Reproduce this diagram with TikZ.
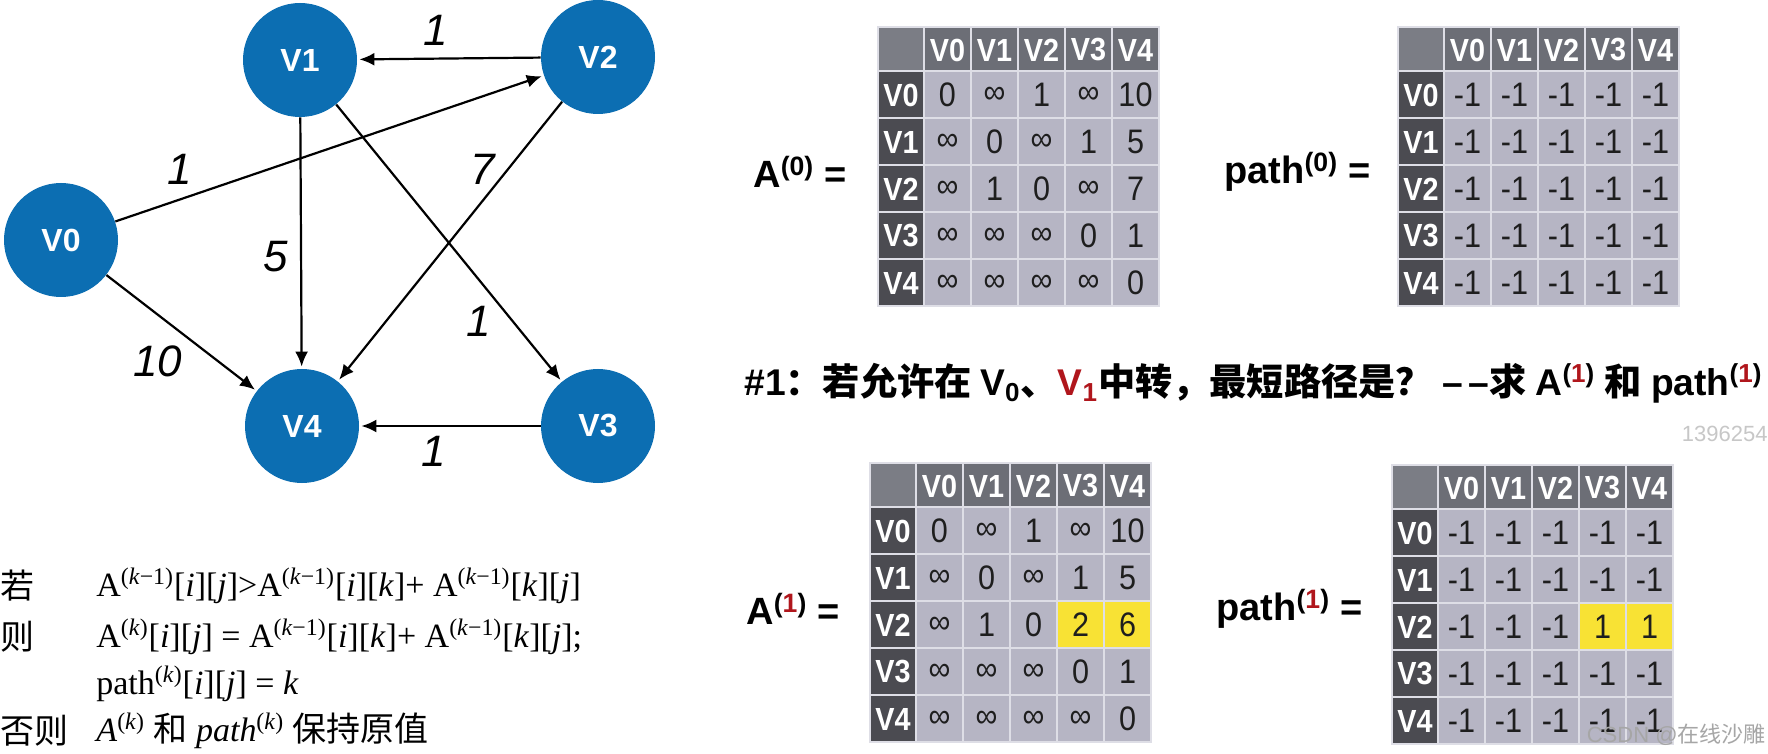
\documentclass[tikz,border=0pt]{standalone}
\usepackage{fontspec}
\usetikzlibrary{arrows.meta}
\setmainfont{Liberation Serif}
\setsansfont{Liberation Sans}
\newfontfamily\hv{Liberation Sans}
\newfontfamily\hvn{Liberation Sans}[FakeStretch=0.9]
\newfontfamily\cjk{Noto Sans CJK SC}
\definecolor{nodeblue}{HTML}{0C6EB2}
\definecolor{cornerc}{HTML}{7B7D85}
\definecolor{hdrbg}{HTML}{6C6E76}
\definecolor{rowhdr}{HTML}{4B4B51}
\definecolor{cellbg}{HTML}{B6B5C4}
\definecolor{hl}{HTML}{F8E234}
\definecolor{gridline}{HTML}{DEDEE6}
\definecolor{redone}{HTML}{B0161C}
\definecolor{celltext}{HTML}{1E1E1E}
\tikzset{
  vnode/.style={circle, fill=nodeblue, minimum size=57pt, inner sep=0pt,
    text=white, font=\hv\bfseries\fontsize{16}{18}\selectfont},
  edge/.style={line width=1.1pt, -{Latex[length=7.5pt,width=6.5pt]}, shorten >=1pt},
  elab/.style={inner sep=0pt, font=\hv\itshape\fontsize{22}{24}\selectfont},
  hdrtxt/.style={inner sep=0pt, text=white, font=\hvn\bfseries\fontsize{16}{18}\selectfont},
  celltxt/.style={inner sep=0pt, text=celltext, font=\hvn\fontsize{17}{19}\selectfont},
  eqlab/.style={inner sep=0pt, anchor=west, font=\hv\bfseries\fontsize{19}{22}\selectfont},
  formula/.style={inner sep=0pt, anchor=west, font=\rmfamily\fontsize{17}{20}\selectfont},
  cjklab/.style={inner sep=0pt, anchor=west, font=\cjk\fontsize{17}{20}\selectfont},
}
% #1 x, #2 y, #3 name, #4 highlight flag, #5 rows
\newcommand\mtable[5]{%
\begin{scope}[shift={(#1,#2)}]
  \fill[cornerc, draw=gridline, line width=0.8pt] (0,0) rectangle (46,44);
  \foreach \c [count=\i from 0] in {V0,V1,V2,V3,V4} {
    \fill[hdrbg, draw=gridline, line width=0.8pt] (46+47*\i,0) rectangle ++(47,44);
    \node[hdrtxt] (#3-h\i) at (46+47*\i+23.5,23) {\c};
    \fill[rowhdr, draw=gridline, line width=0.8pt] (0,44+47*\i) rectangle ++(46,47);
    \node[hdrtxt] (#3-r\i) at (23,44+47*\i+24) {\c};
  }
  \foreach \row [count=\j from 0] in {#5} {
    \foreach \v [count=\i from 0] in \row {
      \def\cellcol{cellbg}%
      \ifnum#4=1 \ifnum\j=2 \ifnum\i>2 \def\cellcol{hl}\fi\fi\fi
      \fill[\cellcol, draw=gridline, line width=0.8pt] (46+47*\i,44+47*\j) rectangle ++(47,47);
      \node[celltxt] (#3-\j-\i) at (46+47*\i+23.5,44+47*\j+24) {\v};
    }
  }
\end{scope}}
\begin{document}
\begin{tikzpicture}[x=0.5pt,y=-0.5pt]
\fill[white] (0,0) rectangle (1768,754);
\useasboundingbox (0,0) rectangle (1768,754);
% graph
\node[vnode] (v0) at (61,240) {V0};
\node[vnode] (v1) at (300,60) {V1};
\node[vnode] (v2) at (598,57) {V2};
\node[vnode] (v4) at (302,426) {V4};
\node[vnode] (v3) at (598,426) {V3};
\draw[edge] (v2) -- (v1);
\draw[edge] (v0) -- (v2);
\draw[edge] (v1) -- (v4);
\draw[edge] (v1) -- (v3);
\draw[edge] (v2) -- (v4);
\draw[edge] (v0) -- (v4);
\draw[edge] (v3) -- (v4);
\node[elab] (l21) at (436,30) {1};
\node[elab] (l02) at (180,169) {1};
\node[elab] (l24) at (483,169) {7};
\node[elab] (l14) at (276,257) {5};
\node[elab] (l04) at (158,361) {10};
\node[elab] (l13) at (479,321) {1};
\node[elab] (l34) at (434,451) {1};
% formulas
\node[cjklab] (f1a) at (0,586) {若};
\node[formula] (f1b) at (96,586) {A\textsuperscript{(\textit{k}−1)}[\textit{i}][\textit{j}]>A\textsuperscript{(\textit{k}−1)}[\textit{i}][\textit{k}]+ A\textsuperscript{(\textit{k}−1)}[\textit{k}][\textit{j}]};
\node[cjklab] (f2a) at (0,637) {则};
\node[formula] (f2b) at (96,637) {A\textsuperscript{(\textit{k})}[\textit{i}][\textit{j}] = A\textsuperscript{(\textit{k}−1)}[\textit{i}][\textit{k}]+ A\textsuperscript{(\textit{k}−1)}[\textit{k}][\textit{j}];};
\node[formula] (f3b) at (96,684) {path\textsuperscript{(\textit{k})}[\textit{i}][\textit{j}] = \textit{k}};
\node[cjklab] (f4a) at (0,731) {否则};
\node[formula] (f4b) at (96,731) {\textit{A}\textsuperscript{(\textit{k})} {\cjk 和} \textit{path}\textsuperscript{(\textit{k})} {\cjk 保持原值}};
% tables
\mtable{878}{27}{ta}{0}{{0,∞,1,∞,10},{∞,0,∞,1,5},{∞,1,0,∞,7},{∞,∞,∞,0,1},{∞,∞,∞,∞,0}}
\mtable{1398}{27}{tp}{0}{{-1,-1,-1,-1,-1},{-1,-1,-1,-1,-1},{-1,-1,-1,-1,-1},{-1,-1,-1,-1,-1},{-1,-1,-1,-1,-1}}
\mtable{870}{463}{ua}{1}{{0,∞,1,∞,10},{∞,0,∞,1,5},{∞,1,0,2,6},{∞,∞,∞,0,1},{∞,∞,∞,∞,0}}
\mtable{1392}{465}{up}{1}{{-1,-1,-1,-1,-1},{-1,-1,-1,-1,-1},{-1,-1,-1,1,1},{-1,-1,-1,-1,-1},{-1,-1,-1,-1,-1}}
% labels
\node[eqlab] (la0) at (753,172) {A\textsuperscript{(0)} =};
\node[eqlab] (lp0) at (1224,172) {path\textsuperscript{(0)} =};
\node[eqlab] (la1) at (746,609) {A\textsuperscript{(\textcolor{redone}{1})} =};
\node[eqlab] (lp1) at (1216,609) {path\textsuperscript{(\textcolor{redone}{1})} =};
% sentence
\node[eqlab, font=\bfseries\fontsize{18.6}{21}\selectfont] (sent) at (744,383) {{\hv \#1}{\cjk ：若允许在 }{\hv V\textsubscript{0}}{\cjk 、}{\hv\color{redone}V\textsubscript{1}}{\cjk 中转，最短路径是？}\ {\hv –\hspace{0.15em}–}{\cjk 求} {\hv A\textsuperscript{(\textcolor{redone}{1})}} {\cjk 和} {\hv path\textsuperscript{(\textcolor{redone}{1})}}};
% watermarks
\node[inner sep=0pt, anchor=east, text=black!22, font=\hv\fontsize{11}{13}\selectfont] (wm1) at (1768,434) {1396254};
\node[inner sep=0pt, anchor=east, text=black!35, font=\hv\fontsize{11}{13}\selectfont] (wm2) at (1766,735) {CSDN @{\cjk 在线沙雕}};
\end{tikzpicture}
\end{document}
